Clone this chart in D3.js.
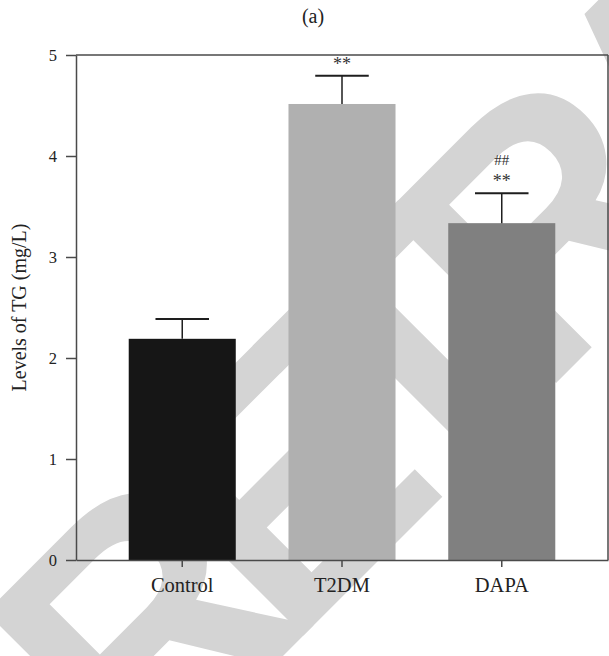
<!DOCTYPE html>
<html>
<head>
<meta charset="utf-8">
<script src="https://cdn.jsdelivr.net/npm/d3@7"></script>
<style>
  body { margin: 0; background: #fff; }
  svg { display: block; }
  .axis text { font-family: "Liberation Serif", "Times New Roman", serif; fill: #222; }
  .axis path, .axis line { stroke: #4a4a4a; stroke-width: 1.5; }
</style>
</head>
<body>
<div class="canvas"></div>
<script>
// data
var groups = ['Control', 'T2DM', 'DAPA'];
var means = [2.19, 4.515, 3.335];
var errors = [0.195, 0.28, 0.295];
var marks = [[], ['**'], ['**', '##']];
var barColours = ['#161616', '#b0b0b0', '#808080'];
var yTicks = [0, 1, 2, 3, 4, 5];

var width = 609;
var height = 656;
var plotLeft = 76, plotRight = 608, plotTop = 55, plotBottom = 560;

var svg = d3.select('.canvas')
  .append('svg')
  .attr('width', width)
  .attr('height', height);

// light grey watermark behind the chart
svg.append('text')
  .attr('transform', 'translate(140,799) rotate(-45)')
  .attr('font-family', 'Liberation Sans, Arial, sans-serif')
  .attr('font-weight', 'bold')
  .attr('font-size', 350)
  .attr('letter-spacing', -45)
  .attr('fill', '#d4d4d4')
  .text('RETRACTED');

var xscale = d3.scaleBand()
  .domain(groups)
  .range([plotLeft, plotRight])
  .padding(0.33);

var yscale = d3.scaleLinear()
  .domain([0, 5])
  .range([plotBottom, plotTop]);

// bars
svg.selectAll('rect.bar')
  .data(groups)
  .enter()
  .append('rect')
  .attr('class', 'bar')
  .attr('x', function(d) { return xscale(d); })
  .attr('y', function(d, i) { return yscale(means[i]); })
  .attr('width', xscale.bandwidth())
  .attr('height', function(d, i) { return yscale(0) - yscale(means[i]); })
  .attr('fill', function(d, i) { return barColours[i]; });

// error bars (upper only)
var capHalf = xscale.bandwidth() / 4;
groups.forEach(function(g, i) {
  var cx = xscale(g) + xscale.bandwidth() / 2;
  svg.append('line')
    .attr('x1', cx).attr('x2', cx)
    .attr('y1', yscale(means[i])).attr('y2', yscale(means[i] + errors[i]))
    .attr('stroke', '#1e1e1e').attr('stroke-width', 1.5);
  svg.append('line')
    .attr('x1', cx - capHalf).attr('x2', cx + capHalf)
    .attr('y1', yscale(means[i] + errors[i])).attr('y2', yscale(means[i] + errors[i]))
    .attr('stroke', '#1e1e1e').attr('stroke-width', 2);
  marks[i].forEach(function(m, j) {
    svg.append('text')
      .attr('x', cx)
      .attr('y', yscale(means[i] + errors[i]) - 6 - j * 22)
      .attr('text-anchor', 'middle')
      .attr('font-family', 'Liberation Serif, serif')
      .attr('font-size', m == '**' ? 18 : 15)
      .attr('fill', '#333')
      .text(m);
  });
});

// axes
var yaxis = d3.axisLeft(yscale).tickValues(yTicks).tickFormat(d3.format('d'))
  .tickSize(10).tickSizeOuter(0).tickPadding(9);
svg.append('g')
  .attr('class', 'axis')
  .attr('transform', 'translate(' + plotLeft + ',0)')
  .call(yaxis)
  .selectAll('text').attr('font-size', 16.5);

var xaxis = d3.axisBottom(xscale).tickSize(7).tickSizeOuter(0).tickPadding(10.5);
svg.append('g')
  .attr('class', 'axis')
  .attr('transform', 'translate(0,' + plotBottom + ')')
  .call(xaxis)
  .selectAll('text').attr('font-size', 20.5);

// frame top and right
svg.append('line')
  .attr('x1', plotLeft).attr('x2', plotRight).attr('y1', plotTop).attr('y2', plotTop)
  .attr('stroke', '#4a4a4a').attr('stroke-width', 1.5);
svg.append('line')
  .attr('x1', plotRight).attr('x2', plotRight).attr('y1', plotTop).attr('y2', plotBottom)
  .attr('stroke', '#4a4a4a').attr('stroke-width', 1.5);

// labels
svg.append('text')
  .attr('transform', 'translate(26,' + ((plotTop + plotBottom) / 2) + ') rotate(-90)')
  .attr('text-anchor', 'middle')
  .attr('font-family', 'Liberation Serif, serif')
  .attr('font-size', 20)
  .attr('fill', '#222')
  .text('Levels of TG (mg/L)');

svg.append('text')
  .attr('x', 313)
  .attr('y', 23)
  .attr('text-anchor', 'middle')
  .attr('font-family', 'Liberation Serif, serif')
  .attr('font-size', 20)
  .attr('fill', '#222')
  .text('(a)');
</script>
</body>
</html>
